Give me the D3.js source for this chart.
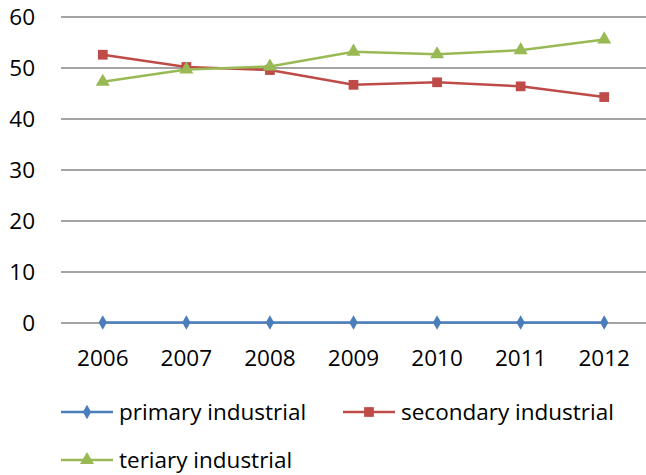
<!DOCTYPE html>
<html>
<head>
<meta charset="utf-8">
<script src="https://cdn.jsdelivr.net/npm/d3@7"></script>
<style>
	body { margin: 0; background: #fff; }
	text { font-family: "Open Sans", sans-serif; fill: #000; }
</style>
</head>
<body>
<div id="chart"></div>
<script>
var years = ["2006", "2007", "2008", "2009", "2010", "2011", "2012"];
var primary = [0.1, 0.1, 0.1, 0.1, 0.1, 0.1, 0.1];
var secondary = [52.6, 50.2, 49.6, 46.7, 47.2, 46.4, 44.3];
var tertiary = [47.3, 49.7, 50.3, 53.2, 52.7, 53.5, 55.6];
var yTicks = [0, 10, 20, 30, 40, 50, 60];

var series = [
	{name: "primary industrial", values: primary, color: "#4a7ebb", symbol: d3.symbolDiamond, size: 60},
	{name: "secondary industrial", values: secondary, color: "#be4b48", symbol: d3.symbolSquare, size: 95},
	{name: "teriary industrial", values: tertiary, color: "#98b954", symbol: d3.symbolTriangle, size: 85}
];

var width = 646, height = 475;
var svg = d3.select("#chart").append("svg")
	.attr("width", width)
	.attr("height", height);

var x = d3.scaleBand().domain(years).range([61, 646]);
var y = d3.scaleLinear().domain([0, 60]).range([323, 17]);

// gridlines
svg.selectAll("line.grid").data(yTicks).enter()
	.append("line")
	.attr("x1", 61).attr("x2", 646)
	.attr("y1", d => y(d)).attr("y2", d => y(d))
	.attr("stroke", "#868686")
	.attr("stroke-width", 1.5);

svg.selectAll("text.ylab").data(yTicks).enter()
	.append("text")
	.attr("x", 35)
	.attr("y", d => y(d))
	.attr("dy", "0.36em")
	.attr("text-anchor", "end")
	.attr("font-size", 22.5)
	.text(d => d);

svg.selectAll("text.xlab").data(years).enter()
	.append("text")
	.attr("x", d => x(d) + x.bandwidth() / 2)
	.attr("y", 358)
	.attr("dy", "0.36em")
	.attr("text-anchor", "middle")
	.attr("font-size", 22.5)
	.text(d => d);

var line = d3.line()
	.x((d, i) => x(years[i]) + x.bandwidth() / 2)
	.y(d => y(d));

series.forEach(function(s){
	svg.append("path")
		.attr("d", line(s.values))
		.attr("fill", "none")
		.attr("stroke", s.color)
		.attr("stroke-width", 2.5);
	svg.selectAll(null).data(s.values).enter()
		.append("path")
		.attr("d", d3.symbol().type(s.symbol).size(s.size))
		.attr("transform", (d, i) => "translate(" + (x(years[i]) + x.bandwidth() / 2) + "," + y(d) + ")")
		.attr("fill", s.color);
});

// legend
var legendPos = [[61, 412], [343, 412], [61, 460]];
series.forEach(function(s, i){
	var lx = legendPos[i][0], ly = legendPos[i][1];
	var g = svg.append("g").attr("transform", "translate(" + lx + "," + ly + ")");
	g.append("line")
		.attr("x1", 0).attr("x2", 52)
		.attr("y1", 0).attr("y2", 0)
		.attr("stroke", s.color)
		.attr("stroke-width", 2.5);
	g.append("path")
		.attr("d", d3.symbol().type(s.symbol).size(s.size))
		.attr("transform", "translate(26,0)")
		.attr("fill", s.color);
	g.append("text")
		.attr("x", 58)
		.attr("y", 0)
		.attr("dy", "0.36em")
		.attr("font-size", 22.5)
		.text(s.name);
});
</script>
</body>
</html>
